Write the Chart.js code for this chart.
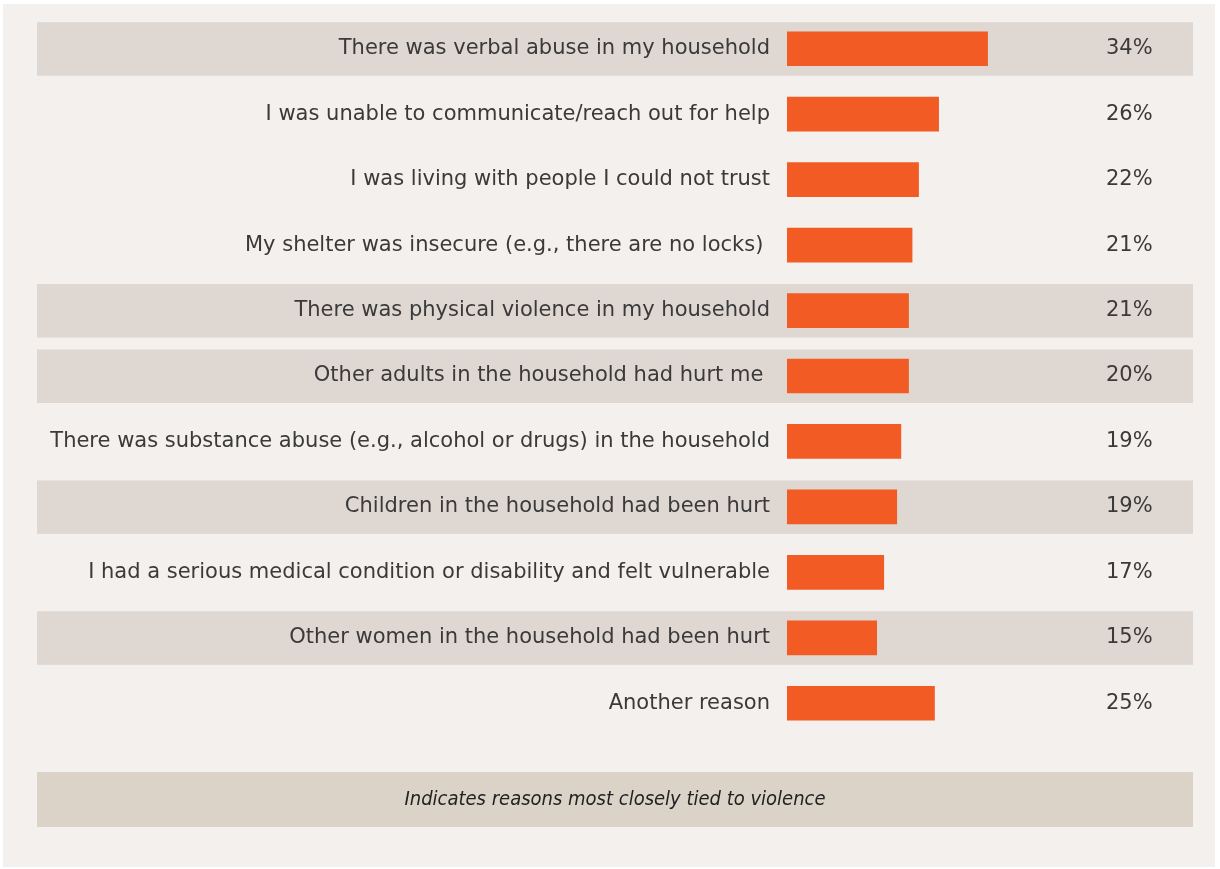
<!DOCTYPE html>
<html>
<head>
<meta charset="utf-8">
<script src="https://cdn.jsdelivr.net/npm/chart.js@4.4.1/dist/chart.umd.min.js"></script>
<style>
  html, body { margin: 0; padding: 0; background: #ffffff; }
  #panel { position: absolute; left: 3px; top: 4px; width: 1212px; height: 863px; background: #f3f0ed; }
  #wrap { position: absolute; left: 0; top: 0; width: 1220px; height: 869px; }
</style>
</head>
<body>
<div id="panel"></div>
<div id="wrap"><canvas id="chart"></canvas></div>
<script>
// reasons, top to bottom (trailing spaces are in the original labels)
const reasons = [
  "There was verbal abuse in my household",
  "I was unable to communicate/reach out for help",
  "I was living with people I could not trust",
  "My shelter was insecure (e.g., there are no locks) ",
  "There was physical violence in my household",
  "Other adults in the household had hurt me ",
  "There was substance abuse (e.g., alcohol or drugs) in the household",
  "Children in the household had been hurt",
  "I had a serious medical condition or disability and felt vulnerable",
  "Other women in the household had been hurt",
  "Another reason",
]
// bar lengths (%)
const shares = [34.0, 25.7, 22.3, 21.2, 20.6, 20.6, 19.3, 18.6, 16.4, 15.2, 25.0]
// printed percentages
const shareLabels = ["34%", "26%", "22%", "21%", "21%", "20%", "19%", "19%", "17%", "15%", "25%"]
// rows most closely tied to violence (shaded)
const violenceRows = [true, false, false, false, true, true, false, true, false, true, false]
const footnote = "Indicates reasons most closely tied to violence"

const LABEL_FAMILY = "'DejaVu Sans', sans-serif"
const TEXT_COLOR = "#3a3a3a"

const bandsPlugin = {
  id: "bands",
  // shaded rows go under everything, tick labels included
  beforeDraw(chart) {
    const { ctx, scales: { y }, chartArea } = chart
    ctx.save()
    ctx.fillStyle = "#dfd7d1"
    violenceRows.forEach((on, i) => {
      if (!on) return
      const cy = y.getPixelForValue(i)
      ctx.fillRect(37, cy - 26.5, 1156, 53.5)
    })
    // footnote band
    ctx.fillStyle = "#dcd3c8"
    ctx.fillRect(37, chartArea.bottom + 36, 1156, 55)
    ctx.fillStyle = "#222"
    ctx.font = "italic 20px 'Liberation Sans Narrow', 'DejaVu Sans Condensed', sans-serif"
    ctx.textAlign = "center"
    ctx.textBaseline = "middle"
    ctx.fillText(footnote, 615, chartArea.bottom + 64)
    ctx.restore()
  },
  afterDatasetsDraw(chart) {
    const { ctx, scales: { y }, chartArea } = chart
    ctx.save()
    ctx.fillStyle = TEXT_COLOR
    ctx.font = "21px " + LABEL_FAMILY
    ctx.textAlign = "left"
    ctx.textBaseline = "middle"
    shareLabels.forEach((t, i) => {
      ctx.fillText(t, chartArea.right + 24, y.getPixelForValue(i))
    })
    ctx.restore()
  },
}

new Chart(document.getElementById("chart"), {
  type: "bar",
  data: {
    labels: reasons,
    datasets: [{
      data: shares,
      backgroundColor: "#f25c24",
      barThickness: 34,
    }],
  },
  options: {
    indexAxis: "y",
    responsive: true,
    maintainAspectRatio: false,
    animation: false,
    layout: { padding: { left: 0, right: 138, top: 16, bottom: 133 } },
    scales: {
      x: { display: false, min: 0, max: 50 },
      y: {
        grid: { display: false, drawTicks: false },
        border: { display: false },
        ticks: {
          color: TEXT_COLOR,
          font: { family: LABEL_FAMILY, size: 21 },
          padding: 17,
          autoSkip: false,
        },
        afterFit: (scale) => {
          scale.width = 787
          // tick padding would otherwise push the plot area down
          scale.paddingTop = 0
          scale.paddingBottom = 0
        },
      },
    },
    plugins: { legend: { display: false }, tooltip: { enabled: false } },
  },
  plugins: [bandsPlugin],
})
</script>
</body>
</html>
